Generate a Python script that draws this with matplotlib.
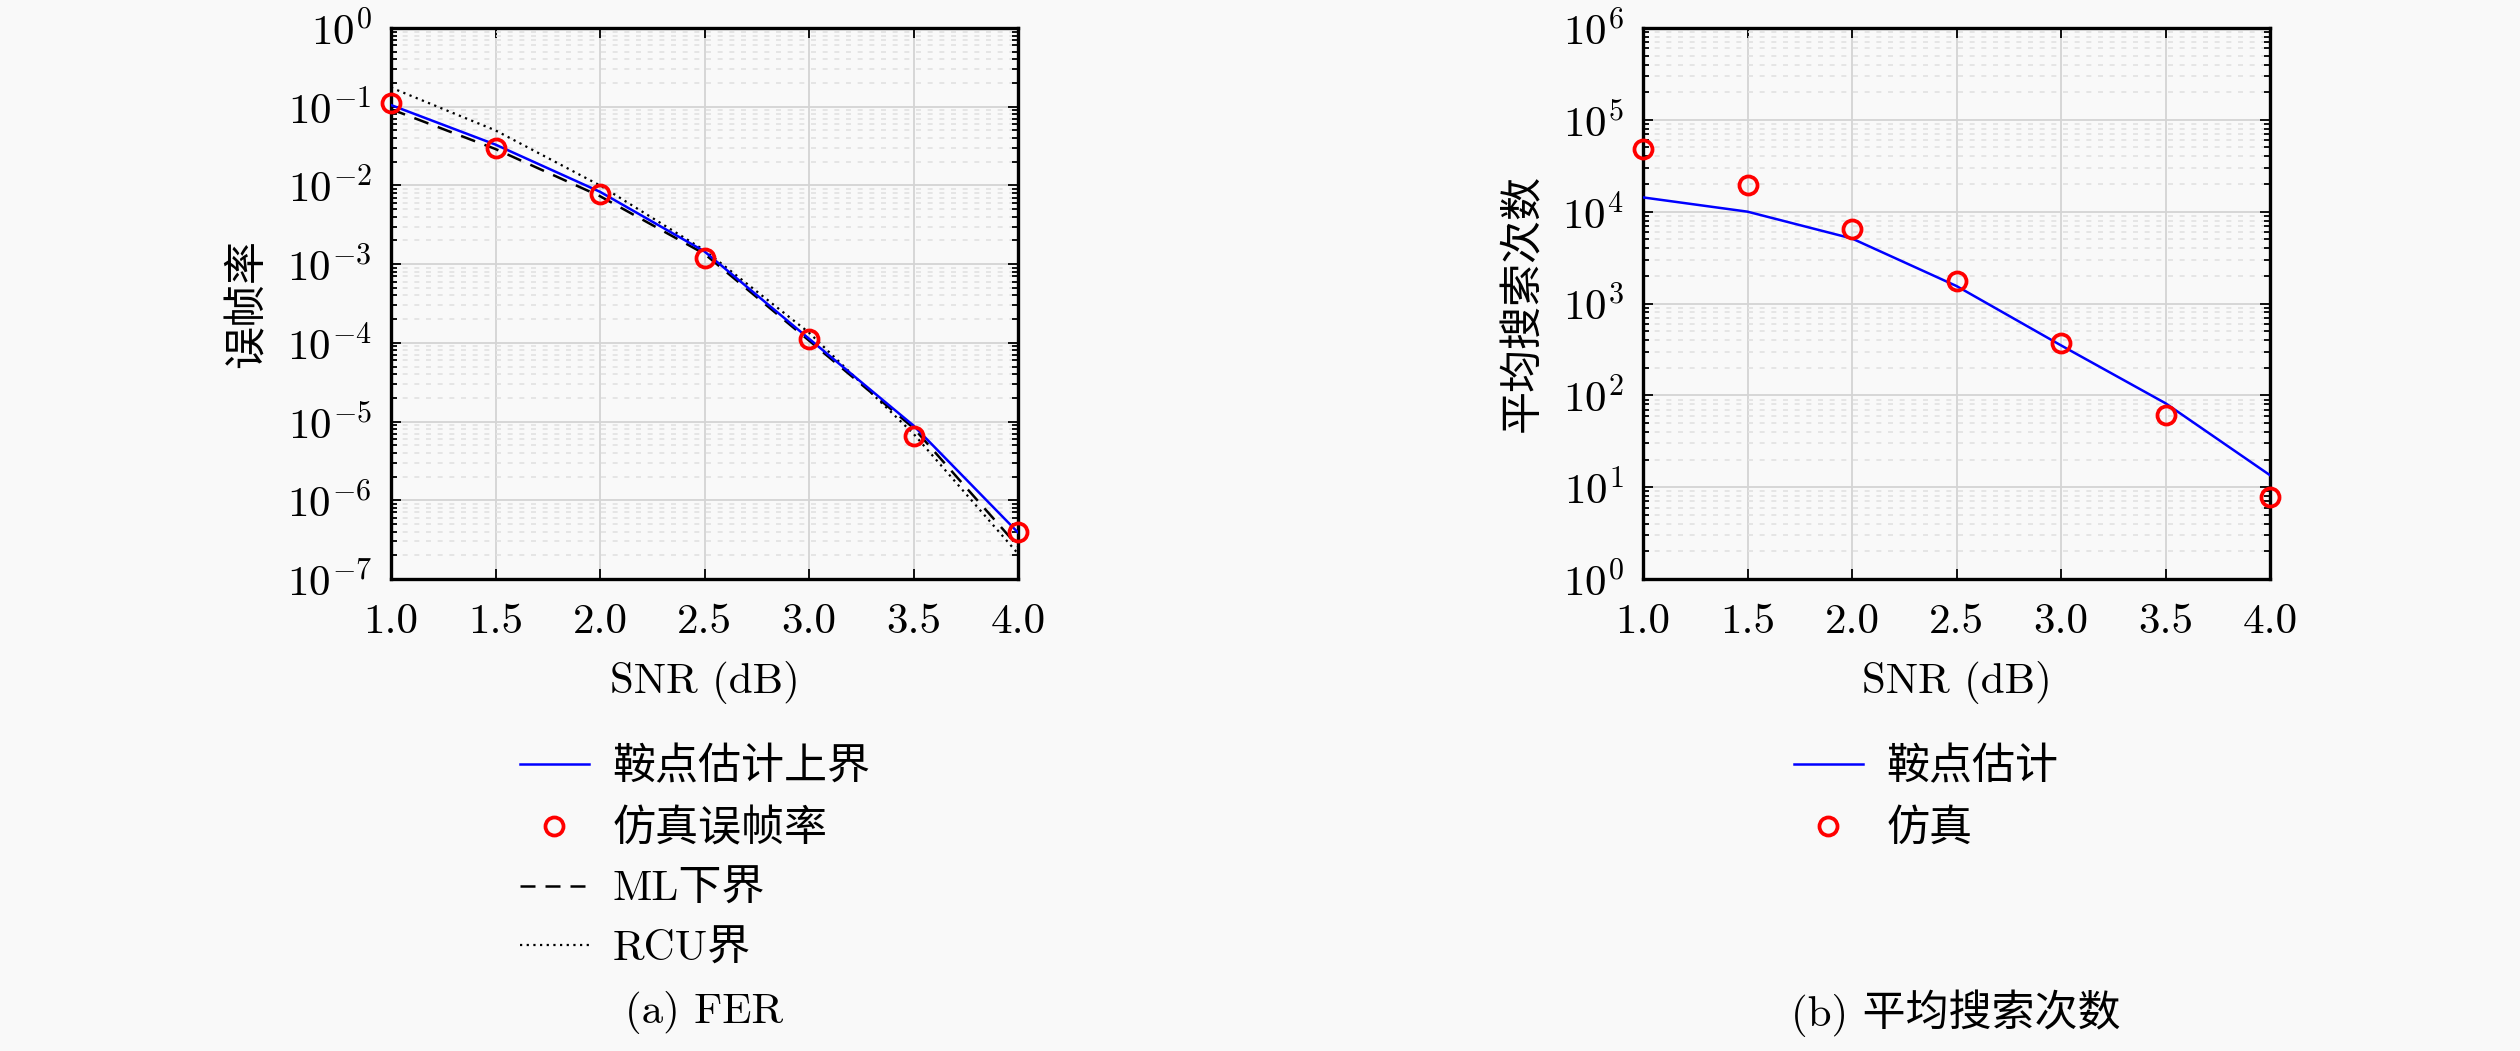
import numpy as np
import matplotlib
matplotlib.use("Agg")
import matplotlib.pyplot as plt
from matplotlib.ticker import LogLocator, LogFormatterMathtext, FormatStrFormatter, NullFormatter

snr = [1.0, 1.5, 2.0, 2.5, 3.0, 3.5, 4.0]

# (a) FER
fer_saddle = [1.05e-1, 3.3e-2, 8.3e-3, 1.45e-3, 1.13e-4, 8.9e-6, 3.9e-7]
fer_sim = [1.1e-1, 2.95e-2, 7.8e-3, 1.2e-3, 1.13e-4, 6.6e-6, 4.0e-7]
fer_ml = [9.3e-2, 2.9e-2, 7.3e-3, 1.35e-3, 1.07e-4, 8.3e-6, 2.6e-7]
fer_rcu = [1.75e-1, 5.0e-2, 1.0e-2, 1.5e-3, 1.35e-4, 7.0e-6, 2.1e-7]

# (b) average number of searches
search_saddle = [1.43e4, 1.0e4, 5.1e3, 1.55e3, 3.5e2, 82, 13.5]
search_sim = [4.8e4, 1.95e4, 6.4e3, 1.74e3, 3.72e2, 61, 7.9]

plt.rcParams["font.family"] = ["cmr10", "Noto Sans CJK SC", "DejaVu Sans"]
plt.rcParams["mathtext.fontset"] = "cm"
plt.rcParams["axes.formatter.use_mathtext"] = True
plt.rcParams["axes.unicode_minus"] = False

FS = 31
W, H = 2520, 1051
BG = "#f9f9f9"

fig = plt.figure(figsize=(W / 100, H / 100), dpi=100, facecolor=BG)


def make_axes(x0, label, ylim):
    ax = fig.add_axes([x0 / W, 1 - 579 / H, 627 / W, 551 / H], facecolor=BG)
    ax.set_yscale("log")
    ax.set_xlim(1.0, 4.0)
    ax.set_ylim(*ylim)
    ax.set_xticks(snr)
    ax.xaxis.set_major_formatter(FormatStrFormatter("%.1f"))
    ax.yaxis.set_major_locator(LogLocator(base=10, numticks=20))
    ax.yaxis.set_minor_locator(LogLocator(base=10, subs=np.arange(2, 10), numticks=20))
    ax.yaxis.set_major_formatter(LogFormatterMathtext())
    ax.yaxis.set_minor_formatter(NullFormatter())
    ax.tick_params(which="both", direction="in", top=True, right=True,
                   labelsize=FS, width=1.3)
    ax.tick_params(which="major", length=7)
    ax.tick_params(which="minor", length=4)
    ax.tick_params(axis="x", pad=18)
    ax.tick_params(axis="y", pad=14)
    for s in ax.spines.values():
        s.set_linewidth(2.4)
    ax.grid(which="major", color="#d4d4d4", linewidth=1.3, linestyle="-")
    ax.grid(which="minor", axis="y", color="#e2e2e2", linewidth=1.2, linestyle=(0, (3, 4)))
    ax.set_axisbelow(True)
    ax.set_xlabel("SNR (dB)", fontsize=FS, labelpad=14)
    ax.set_ylabel(label, fontsize=FS, labelpad=14)
    return ax


ax1 = make_axes(391, "误帧率", (1e-7, 1e0))
ax1.plot(snr, fer_saddle, color="#0000ff", lw=1.8, label="鞍点估计上界", zorder=4)
ax1.plot(snr, fer_sim, ls="none", marker="o", ms=13, mfc="none", mec="#ff0000",
         mew=2.7, label="仿真误帧率", zorder=5, clip_on=False)
ax1.plot(snr, fer_ml, color="black", lw=1.8, ls=(0, (6, 4)), label="ML下界", zorder=3)
ax1.plot(snr, fer_rcu, color="black", lw=1.6, ls=(0, (1, 2)), label="RCU界", zorder=3)

ax2 = make_axes(1643, "平均搜索次数", (1e0, 1e6))
ax2.plot(snr, search_saddle, color="#0000ff", lw=1.8, label="鞍点估计", zorder=4)
ax2.plot(snr, search_sim, ls="none", marker="o", ms=13, mfc="none", mec="#ff0000",
         mew=2.7, label="仿真", zorder=5, clip_on=False)

leg_kw = dict(loc="upper left", frameon=False, fontsize=FS, handlelength=1.6,
              handletextpad=0.55, labelspacing=0.5, borderpad=0, borderaxespad=0)
ax1.legend(bbox_to_anchor=(520 / W, 1 - 747 / H), bbox_transform=fig.transFigure, **leg_kw)
ax2.legend(bbox_to_anchor=(1794 / W, 1 - 747 / H), bbox_transform=fig.transFigure, **leg_kw)

fig.text(704 / W, 1 - 1013 / H, "(a) FER", fontsize=FS, ha="center", va="center")
fig.text(1956 / W, 1 - 1013 / H, "(b) 平均搜索次数", fontsize=FS, ha="center", va="center")

fig.savefig("out.png", dpi=100, facecolor=BG)
